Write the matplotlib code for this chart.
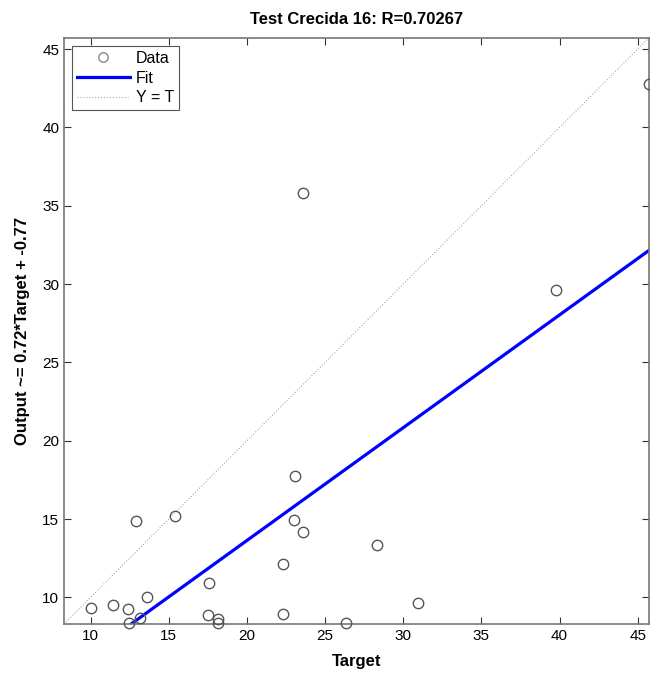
import matplotlib
matplotlib.use("Agg")
import matplotlib.pyplot as plt
import numpy as np

plt.rcParams['font.family'] = ['Liberation Sans', 'DejaVu Sans']

target = [10.0, 11.44, 12.4, 12.46, 13.14, 13.6, 12.89, 15.38, 17.59, 17.54, 18.16, 18.16,
          22.28, 22.28, 23.03, 23.58, 26.33, 28.34, 30.96, 23.1, 23.6, 39.74, 45.7]
output = [9.3, 9.53, 9.23, 8.39, 8.66, 10.02, 14.85, 15.21, 10.91, 8.85, 8.62, 8.34,
          12.12, 8.96, 14.93, 14.17, 8.39, 13.36, 9.62, 17.72, 35.83, 29.64, 42.75]
fit_slope = 0.72
fit_intercept = -0.77
lims = [8.3, 45.7]
xticks = [10, 15, 20, 25, 30, 35, 40, 45]
yticks = [10, 15, 20, 25, 30, 35, 40, 45]

fig = plt.figure(figsize=(6.5, 6.75), dpi=100)
ax = fig.add_axes([0.0985, 0.0756, 0.8995, 0.868])

xs = np.array(lims)
ax.plot(target, output, 'o', mfc='none', mec='#555555', ms=7.5, mew=1.0, label='Data',
        zorder=3, clip_on=False)
ax.plot(xs, fit_slope * xs + fit_intercept, color='#0000ff', lw=2.3, label='Fit', zorder=2)
ax.plot(xs, xs, ':', color='#aaaaaa', lw=0.8, label='Y = T', zorder=1)

ax.set_xlim(lims)
ax.set_ylim(lims)
ax.set_xticks(xticks)
ax.set_yticks(yticks)
ax.tick_params(direction='in', top=True, right=True, labelsize=11, length=5, color='#333333')
for s in ax.spines.values():
    s.set_color('#777777')
    s.set_linewidth(1.2)

ax.set_title('Test Crecida 16: R=0.70267', fontsize=12, fontweight='bold', pad=10)
ax.set_xlabel('Target', fontsize=12, fontweight='bold', labelpad=8)
ax.set_ylabel('Output ~= 0.72*Target + -0.77', fontsize=12, fontweight='bold', labelpad=9)

leg = ax.legend(loc='upper left', fontsize=11.5, fancybox=False, framealpha=1,
                edgecolor='#555555', borderaxespad=0.5, handlelength=3.3,
                labelspacing=0.3, borderpad=0.3, handletextpad=0.4, markerscale=0.9)
leg.get_frame().set_linewidth(0.8)
leg.legend_handles[0].set_markeredgecolor('#888888')

fig.savefig('out.png', dpi=100)
